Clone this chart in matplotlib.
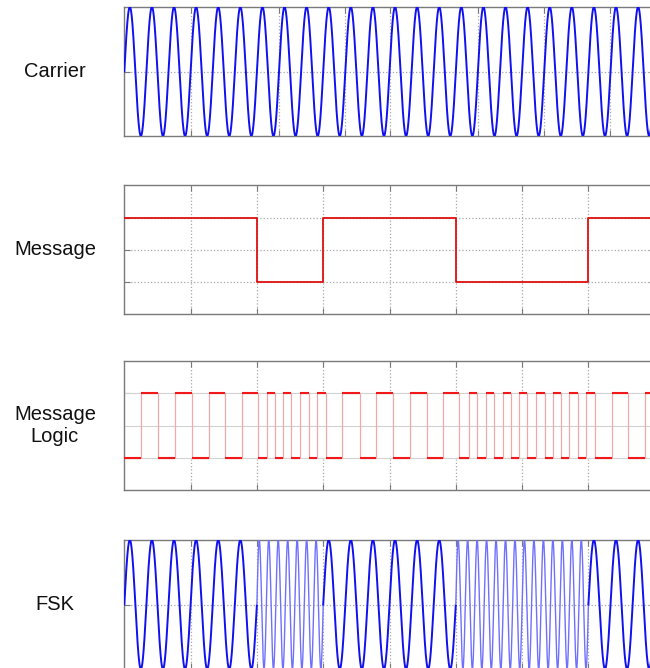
import numpy as np
import matplotlib.pyplot as plt

# time axis is in message-bit units (one bit = one grid division)
t_end = 8.0
bits = [1, 1, 0, 1, 1, 0, 0, 1]          # message value per bit slot
f_carrier = 3.0                          # carrier cycles per bit
f_mark = 3.0                             # FSK frequency for a 1
f_space = 7.0                            # FSK frequency for a 0

# carrier ticks, in carrier periods (as shown on the scope)
carrier_tick_periods = [3, 7, 10, 12, 16, 19, 22]
bit_ticks = [1, 2, 3, 4, 5, 6, 7]

# edges of the "message logic" square wave (starts low)
logic_edges = [0.25, 0.51, 0.77, 1.02, 1.27, 1.52, 1.77, 2.02, 2.15, 2.27,
               2.40, 2.52, 2.65, 2.78, 2.90, 3.04, 3.29, 3.55, 3.80, 4.05,
               4.31, 4.56, 4.81, 5.05, 5.20, 5.32, 5.46, 5.58, 5.71, 5.83,
               5.96, 6.08, 6.21, 6.34, 6.46, 6.59, 6.71, 6.84, 6.96, 7.10,
               7.35, 7.60, 7.85]

labels = ['Carrier', 'Message', 'Message\nLogic', 'FSK']

# signals
t = np.linspace(0, t_end, 8001)
carrier = np.sin(2 * np.pi * f_carrier * t)
bit_idx = np.minimum((t // 1).astype(int), len(bits) - 1)
msg_t = np.array(bits)[bit_idx]
freq = np.where(msg_t == 1, f_mark, f_space)
fsk = np.sin(2 * np.pi * freq * t)

msg_x = np.arange(len(bits) + 1)
msg_y = bits + [bits[-1]]

logic_x = np.array([0.0] + logic_edges + [t_end])
logic_lvl = np.arange(len(logic_edges) + 1) % 2
logic_y = np.append(logic_lvl, logic_lvl[-1])

# figure
W, H = 650, 668
fig = plt.figure(figsize=(W / 100, H / 100), dpi=100)
plt.rcParams['font.family'] = ['Liberation Sans', 'DejaVu Sans']

left_px = 124.3
unit_px = 66.3
panel_tops = [7, 185.3, 361, 540]
panel_h = 129

spine_col = '#7a7a7a'
grid_col = '#a8a8a8'

axes = []
for top in panel_tops:
    ax = fig.add_axes([left_px / W, 1 - (top + panel_h) / H,
                       t_end * unit_px / W, panel_h / H])
    ax.set_xlim(0, t_end)
    for s in ax.spines.values():
        s.set_color(spine_col)
        s.set_linewidth(1.0)
    ax.tick_params(direction='in', top=True, right=True, length=4,
                   color=spine_col, labelbottom=False, labelleft=False)
    axes.append(ax)

ax1, ax2, ax3, ax4 = axes

# carrier
ax1.set_ylim(-1, 1)
ax1.set_yticks([0])
ax1.set_xticks(np.array(carrier_tick_periods) / f_carrier)
ax1.grid(True, linestyle=':', color=grid_col, linewidth=0.9)
ax1.plot(t, carrier, color='#1010f0', linewidth=1.4, zorder=3)

# message
ax2.set_ylim(-0.5, 1.5)
ax2.set_yticks([0, 0.5, 1])
ax2.set_xticks(bit_ticks)
ax2.grid(True, linestyle=':', color=grid_col, linewidth=0.9)
ax2.step(msg_x, msg_y, where='post', color='#e01010', linewidth=1.3, zorder=3)

# message logic
ax3.set_ylim(-0.5, 1.5)
ax3.set_yticks([0, 0.5, 1])
ax3.set_xticks(bit_ticks)
ax3.grid(True, axis='x', linestyle=':', color=grid_col, linewidth=0.9)
ax3.axhspan(0, 1, color='white', zorder=2)
for yv in [0, 0.5, 1]:
    ax3.axhline(yv, color='#d2d2d2', linewidth=0.8, zorder=2.2)
ax3.step(logic_x, logic_y, where='post', color='#f2a8a8', linewidth=0.9,
         zorder=3)
ax3.hlines(logic_lvl, logic_x[:-1], logic_x[1:], color='#f01818',
           linewidth=1.5, zorder=4)

# FSK
ax4.set_ylim(-1, 1)
ax4.set_yticks([0])
ax4.set_xticks(bit_ticks)
ax4.grid(True, linestyle=':', color=grid_col, linewidth=0.9)
fsk_mark = np.where(msg_t == 1, fsk, np.nan)
fsk_space = np.where(msg_t == 0, fsk, np.nan)
# join the segments at the bit boundaries
edge = np.diff(msg_t) != 0
idx = np.where(edge)[0]
fsk_space[idx] = fsk[idx]
fsk_space[idx + 1] = fsk[idx + 1]
ax4.plot(t, fsk_space, color='#7070ff', linewidth=1.0, zorder=3)
ax4.plot(t, fsk_mark, color='#1010f0', linewidth=1.4, zorder=3)

# row labels
for top, lab in zip(panel_tops, labels):
    yc = 1 - (top + panel_h / 2) / H
    fig.text(55 / W, yc, lab, ha='center', va='center', fontsize=14.5,
             linespacing=1.25, color='#111111')

fig.savefig('out.png', dpi=100)
